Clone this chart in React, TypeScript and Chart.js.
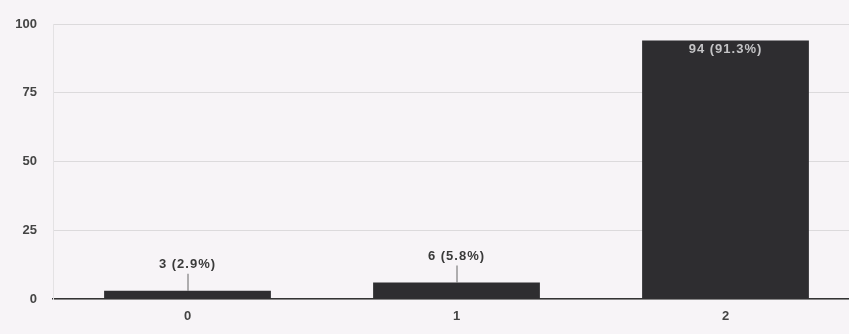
import React, { useEffect, useRef } from "react";
import { Chart, registerables } from "chart.js";

Chart.register(...registerables);

const categories = ["0", "1", "2"];
const counts = [3, 6, 94];
const labels = ["3 (2.9%)", "6 (5.8%)", "94 (91.3%)"];
const yTicks = [0, 25, 50, 75, 100];

const FONT = "'Liberation Sans', Arial, sans-serif";

const valueLabelPlugin = {
  id: "valueLabels",
  afterDatasetsDraw(chart: any) {
    const ctx = chart.ctx;
    const meta = chart.getDatasetMeta(0);
    ctx.save();
    ctx.font = `bold 13px ${FONT}`;
    try {
      (ctx as any).letterSpacing = "1px";
    } catch (e) {}
    ctx.textAlign = "center";
    ctx.textBaseline = "middle";
    meta.data.forEach((bar: any, i: number) => {
      const x = bar.x;
      const top = bar.y;
      const h = bar.base - bar.y;
      if (h > 40) {
        ctx.fillStyle = "#c4c4c6";
        ctx.fillText(labels[i], x, top + 9);
      } else {
        ctx.strokeStyle = "#666";
        ctx.lineWidth = 1;
        ctx.beginPath();
        ctx.moveTo(x + 0.5, top - 17);
        ctx.lineTo(x + 0.5, top);
        ctx.stroke();
        ctx.fillStyle = "#3a3a3a";
        ctx.fillText(labels[i], x, top - 26);
      }
    });
    ctx.restore();
  },
};

export default function App() {
  const ref = useRef<HTMLCanvasElement | null>(null);
  useEffect(() => {
    document.body.style.margin = "0";
    const chart = new Chart(ref.current as HTMLCanvasElement, {
      type: "bar",
      data: {
        labels: categories,
        datasets: [
          {
            data: counts,
            backgroundColor: "#2e2d30",
            borderWidth: 0,
            categoryPercentage: 1,
            barPercentage: 0.62,
          },
        ],
      },
      options: {
        animation: false,
        responsive: false,
        maintainAspectRatio: false,
        layout: { padding: { top: 24, right: 0, bottom: 0, left: 0 } },
        plugins: {
          legend: { display: false },
          tooltip: { enabled: false },
        },
        scales: {
          x: {
            grid: { display: false, drawTicks: false },
            border: { display: true, color: "#333", width: 1.5 },
            ticks: {
              color: "#444",
              font: { family: FONT, size: 13, weight: "bold" },
              padding: 10,
            },
            afterFit(scale: any) {
              scale.height = 35;
            },
          },
          y: {
            min: 0,
            max: 100,
            afterBuildTicks(scale: any) {
              scale.ticks = yTicks.map((v) => ({ value: v }));
            },
            grid: { color: "#dcdadc", drawTicks: false, lineWidth: 1 },
            border: { display: true, color: "#e4e2e4" },
            ticks: {
              color: "#444",
              font: { family: FONT, size: 13, weight: "bold" },
              padding: 16,
            },
            afterFit(scale: any) {
              scale.width = 53;
            },
          },
        },
      },
      plugins: [valueLabelPlugin],
    });
    return () => chart.destroy();
  }, []);
  return (
    <div
      style={{
        position: "absolute",
        left: 0,
        top: 0,
        width: 849,
        height: 334,
        overflow: "hidden",
        background: "#f7f4f7",
      }}
    >
      <canvas ref={ref} width={860} height={334} style={{ display: "block" }} />
    </div>
  );
}
